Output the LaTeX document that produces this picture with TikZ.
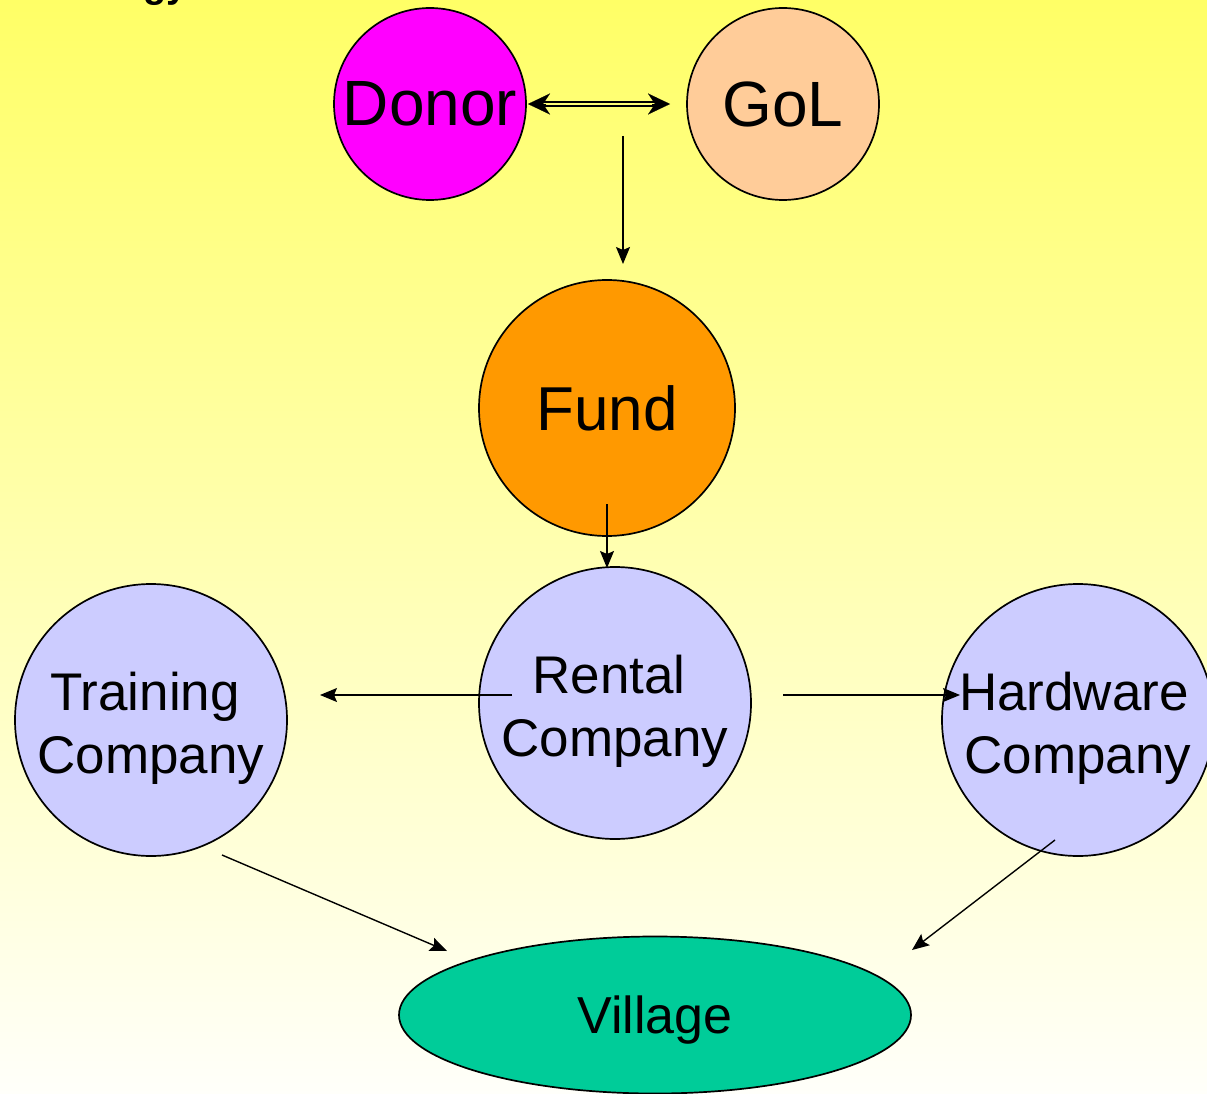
\documentclass[tikz,border=0pt]{standalone}
\usepackage{fontspec}
\setmainfont{Liberation Sans}
\usetikzlibrary{shapes.geometric,arrows.meta}
\definecolor{bgtop}{RGB}{255,255,102}
\definecolor{bgbot}{RGB}{255,255,250}
\definecolor{gapcol}{RGB}{255,255,116}
\definecolor{donorc}{RGB}{255,0,255}
\definecolor{golc}{RGB}{255,204,153}
\definecolor{fundc}{RGB}{255,153,0}
\definecolor{lav}{RGB}{204,204,255}
\definecolor{villc}{RGB}{0,204,153}
\newcommand{\lowerstrut}[1]{\rule{0pt}{#1}}
\tikzset{
  bubble/.style={circle, draw=black, line width=1.7pt, inner sep=0pt, align=center},
  bigtxt/.style={font=\fontsize{64}{64}\selectfont},
  twoline/.style={font=\fontsize{53}{63}\selectfont},
  arr/.style={line width=1.4pt, -{Stealth[length=17pt,width=14pt,inset=3pt]}},
  dblline/.style={double=gapcol, double distance=2.6pt, line width=1.5pt},
  dblhead/.style={line width=0.1pt, -{Stealth[length=22pt,width=21pt,inset=7pt]}}
}
\begin{document}
\begin{tikzpicture}[x=1pt,y=-1pt]
\useasboundingbox (0,0) rectangle (1207,1094);
\shade[top color=bgtop, bottom color=bgbot] (0,0) rectangle (1207,1094);

% cut-off title fragment
\node[anchor=base west, inner sep=0pt, font=\bfseries\fontsize{38}{38}\selectfont] (title) at (143,-2) {gy};

% nodes
\node[bubble, bigtxt, fill=donorc, minimum size=192pt] (donor) at (430,104) {Donor};
\node[bubble, bigtxt, fill=golc, minimum size=192pt] (gol) at (783,104) {GoL};
\node[bubble, font=\fontsize{62}{62}\selectfont, fill=fundc, minimum size=256pt] (fund) at (607,408) {Fund};
\node[bubble, twoline, fill=lav, minimum size=272pt] (rental) at (615,703) {\lowerstrut{55pt}Rental\hspace*{12pt}\\Company};
\node[bubble, twoline, fill=lav, minimum size=272pt] (training) at (151,720) {\lowerstrut{55pt}Training\hspace*{12pt}\\Company};
\node[bubble, twoline, fill=lav, minimum size=272pt] (hardware) at (1078,720) {\lowerstrut{55pt}Hardware\hspace*{8pt}\\Company};
\node[ellipse, draw=black, line width=1.7pt, fill=villc, minimum width=512pt, minimum height=157pt, inner sep=0pt, font=\fontsize{52}{52}\selectfont] (village) at (655,1015) {\lowerstrut{48pt}Village};

% free connector ends
\coordinate (dl) at (528,104);
\coordinate (dr) at (670,104);
\coordinate (dli) at (546,104);
\coordinate (dri) at (652,104);
\coordinate (dlm) at (540,104);
\coordinate (drm) at (658,104);
\coordinate (pairout) at (623,136);
\coordinate (fundin) at (623,264);
\coordinate (fundout) at (607,504);
\coordinate (rentalin) at (607,568);
\coordinate (rentalL) at (512,695);
\coordinate (trainingin) at (320,695);
\coordinate (rentalR) at (783,695);
\coordinate (hardwarein) at (960,695);
\coordinate (trainingout) at (222,855);
\coordinate (villL) at (447,951);
\coordinate (hardwareout) at (1055,840);
\coordinate (villR) at (912,950);

% connectors
\draw[dblline] (dlm) -- (drm);
\draw[dblhead] (dli) -- (dl);
\draw[dblhead] (dri) -- (dr);
\draw[arr] (pairout) -- (fundin);
\draw[arr] (fundout) -- (rentalin);
\draw[arr] (rentalL) -- (trainingin);
\draw[arr] (rentalR) -- (hardwarein);
\draw[arr] (trainingout) -- (villL);
\draw[arr] (hardwareout) -- (villR);
\end{tikzpicture}
\end{document}
